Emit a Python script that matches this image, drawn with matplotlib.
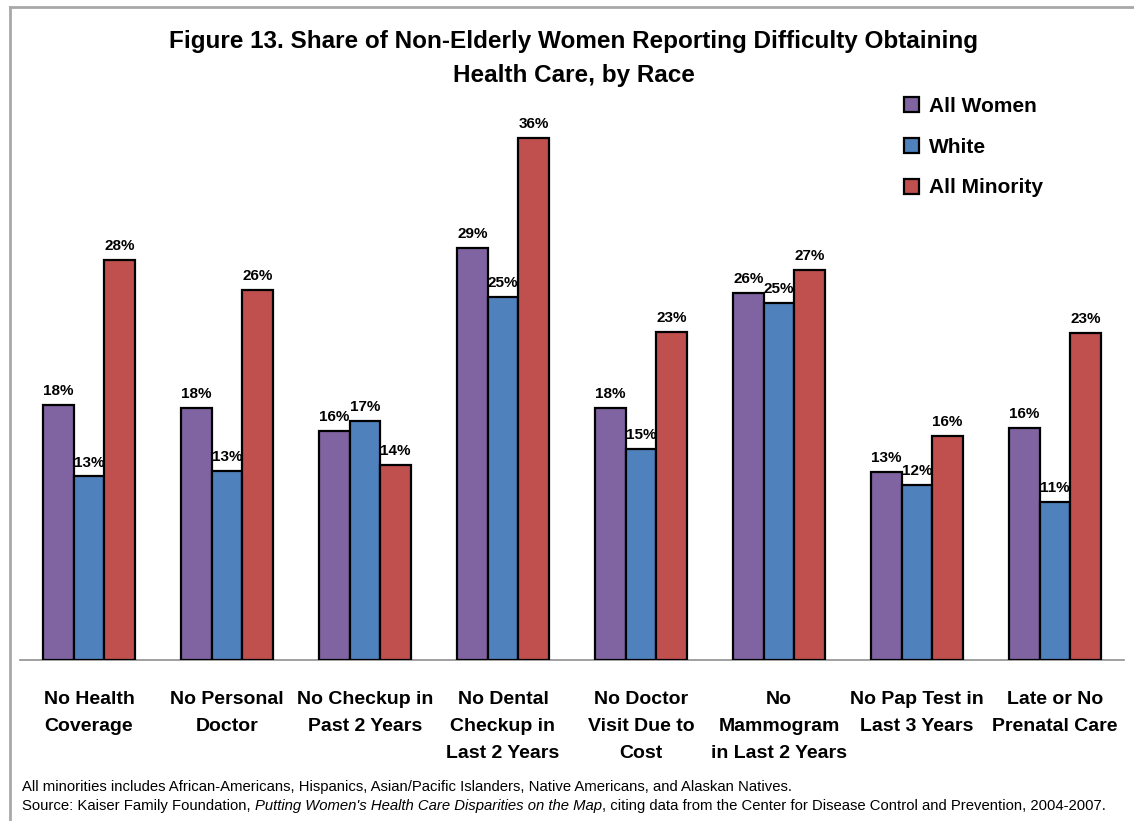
import numpy as np
from matplotlib import pyplot as plt
from matplotlib.lines import Line2D

categories = ["No Health\nCoverage", "No Personal\nDoctor", "No Checkup in\nPast 2 Years",
              "No Dental\nCheckup in\nLast 2 Years", "No Doctor\nVisit Due to\nCost",
              "No\nMammogram\nin Last 2 Years", "No Pap Test in\nLast 3 Years",
              "Late or No\nPrenatal Care"]
series = ["All Women", "White", "All Minority"]
all_women = [17.8, 17.6, 16.0, 28.7, 17.6, 25.6, 13.1, 16.2]
white = [12.8, 13.2, 16.7, 25.3, 14.7, 24.9, 12.2, 11.0]
all_minority = [27.9, 25.8, 13.6, 36.4, 22.9, 27.2, 15.6, 22.8]
colors = ["#8064A2", "#4F81BD", "#C0504D"]

plt.rcParams['font.family'] = ['Liberation Sans', 'DejaVu Sans']

fig = plt.figure(figsize=(11.34, 8.21), dpi=100)
ax = fig.add_axes([20 / 1134, 161 / 821, 1104 / 1134, 573.6 / 821])

x = np.arange(len(categories))
w = 0.221
for i, (vals, name, c) in enumerate(zip([all_women, white, all_minority], series, colors)):
    bars = ax.bar(x + (i - 1) * w, vals, w, color=c, edgecolor='black', linewidth=1.6,
                  label=name, zorder=3)
    for b, v in zip(bars, vals):
        ax.annotate(f"{v:.0f}%", (b.get_x() + b.get_width() / 2, v), xytext=(0, 5),
                    textcoords='offset points', ha='center', va='bottom',
                    fontsize=11, fontweight='bold')

ax.set_xlim(-0.5, len(categories) - 0.5)
ax.set_ylim(0, 40)
ax.set_yticks([])
ax.set_xticks(x)
ax.set_xticklabels(categories, fontsize=14, fontweight='bold', linespacing=1.8)
ax.tick_params(axis='x', length=0, pad=22)
for s in ['top', 'right', 'left']:
    ax.spines[s].set_visible(False)
ax.spines['bottom'].set_color('#909090')
ax.spines['bottom'].set_linewidth(1.2)

fig.text(0.506, 0.950, "Figure 13. Share of Non-Elderly Women Reporting Difficulty Obtaining",
         ha='center', va='center', fontsize=17.5, fontweight='bold')
fig.text(0.506, 0.908, "Health Care, by Race", ha='center', va='center',
         fontsize=17.5, fontweight='bold')

leg = fig.legend(loc='upper left', bbox_to_anchor=(885 / 1134, 1 - 78 / 821), frameon=False,
                 prop={'size': 15, 'weight': 'bold'}, handlelength=0.75, handleheight=0.75,
                 handletextpad=0.45, labelspacing=1.05)

# footnotes
fs = 10.7
fig.text(22 / 1134, 1 - 787 / 821,
         "All minorities includes African-Americans, Hispanics, Asian/Pacific Islanders, "
         "Native Americans, and Alaskan Natives.", fontsize=fs, va='center')
t1 = fig.text(22 / 1134, 1 - 806 / 821, "Source: Kaiser Family Foundation, ", fontsize=fs,
              va='center')
t2 = ax.annotate("Putting Women's Health Care Disparities on the Map", xy=(1, 0),
                 xycoords=t1, va='bottom', fontsize=fs, style='italic')
ax.annotate(", citing data from the Center for Disease Control and Prevention, 2004-2007.",
            xy=(1, 0), xycoords=t2, va='bottom', fontsize=fs)

# outer frame (top and left)
fig.add_artist(Line2D([10 / 1134, 1], [1 - 7 / 821, 1 - 7 / 821], color='#a8a8a8', lw=2,
                      transform=fig.transFigure))
fig.add_artist(Line2D([10 / 1134, 10 / 1134], [0, 1 - 7 / 821], color='#a8a8a8', lw=2,
                      transform=fig.transFigure))

fig.savefig("out.png", dpi=100)
